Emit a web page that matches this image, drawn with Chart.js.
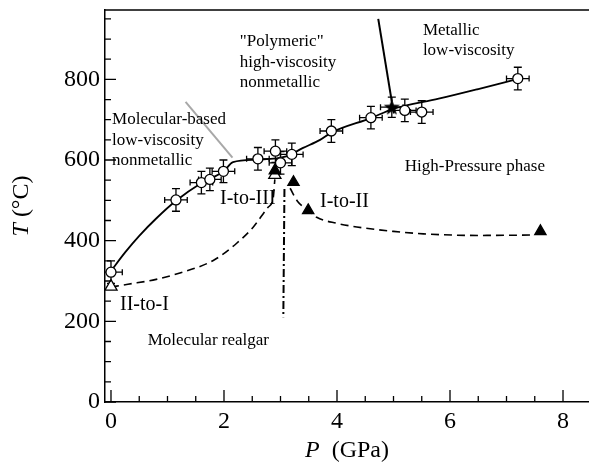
<!DOCTYPE html>
<html>
<head>
<meta charset="utf-8">
<script src="https://cdn.jsdelivr.net/npm/chart.js@4/dist/chart.umd.min.js"></script>
<style>
  body { margin: 0; background: #fff; }
  #myChart { display: block; }
</style>
</head>
<body>
<canvas id="myChart" width="589" height="468"></canvas>
<script>
// tick labels
const xTickValues = [0, 2, 4, 6, 8];
const yTickValues = [0, 200, 400, 600, 800];

// measured points (open circles) with error bars
const circleP = [0, 1.15, 1.6, 1.75, 1.99, 2.6, 2.91, 3.0, 3.2, 3.9, 4.6, 5.2, 5.5, 7.2];
const circleT = [322, 501, 544, 552, 572, 603, 622, 593, 614, 672, 705, 723, 719, 802];
const circleErrP = [0.2, 0.2, 0.2, 0.2, 0.2, 0.2, 0.2, 0.2, 0.2, 0.2, 0.2, 0.2, 0.2, 0.2];
const circleErrT = [28, 28, 28, 28, 28, 28, 28, 28, 28, 28, 28, 28, 28, 28];

// filled star
const starP = [4.97];
const starT = [731];
const starErrP = [0.2];
const starErrT = [25];

// transition triangles
const filledTriP = [2.9, 3.23, 3.49, 7.6];
const filledTriT = [574, 545, 475, 423];
const openTriP = [0, 2.9];
const openTriT = [286, 563];

// solid boundary curve
const boundaryP = [0, 0.25, 0.5, 0.8, 1.15, 1.6, 2.0, 2.16, 2.6, 3.1, 3.4, 3.7, 3.9, 4.6, 5.0, 5.8, 6.5, 7.2];
const boundaryT = [325, 371, 412, 455, 499, 543, 573, 595, 601, 609, 630, 650, 668, 704, 727, 752, 776, 801];

// dashed curves
const dash1P = [0, 0.3, 0.8, 1.22, 1.81, 2.22, 2.52, 2.78, 2.87, 2.9];
const dash1T = [285, 292, 304, 320, 351, 393, 434, 483, 505, 552];
const dash2P = [3.17, 3.3, 3.49, 3.64, 4.0, 4.35, 5.0, 5.53, 6.5, 7.5];
const dash2T = [530, 498, 475, 458, 443, 434, 423, 417, 413, 414];

// dash-dot line
const dashDotP = [3.07, 3.05];
const dashDotT = [528, 210];

// guide lines
const grayP = [1.32, 2.15];
const grayT = [744, 606];
const pointerP = [4.73, 4.97];
const pointerT = [950, 745];

// labels
const notes = [
  { text: 'Molecular-based', p: 0.02, t: 700, size: 17 },
  { text: 'low-viscosity', p: 0.02, t: 649, size: 17 },
  { text: 'nonmetallic', p: 0.02, t: 598, size: 17 },
  { text: '"Polymeric"', p: 2.28, t: 893, size: 17 },
  { text: 'high-viscosity', p: 2.28, t: 842, size: 17 },
  { text: 'nonmetallic', p: 2.28, t: 792, size: 17 },
  { text: 'Metallic', p: 5.52, t: 921, size: 17 },
  { text: 'low-viscosity', p: 5.52, t: 871, size: 17 },
  { text: 'High-Pressure phase', p: 5.2, t: 585, size: 17 },
  { text: 'I-to-III', p: 1.93, t: 505, size: 20 },
  { text: 'I-to-II', p: 3.7, t: 496, size: 20 },
  { text: 'II-to-I', p: 0.16, t: 240, size: 20 },
  { text: 'Molecular realgar', p: 0.65, t: 153, size: 17 }
];

const FONT = "'Liberation Serif', 'Times New Roman', serif";

function pts(xs, ys) {
  return xs.map((x, i) => ({ x: x, y: ys[i] }));
}

// filled star marker
const starImg = document.createElement('canvas');
starImg.width = 18;
starImg.height = 18;
(function () {
  const c = starImg.getContext('2d');
  c.beginPath();
  for (let i = 0; i < 10; i++) {
    const r = i % 2 === 0 ? 8.5 : 3.6;
    const a = -Math.PI / 2 + i * Math.PI / 5;
    const px = 9 + r * Math.cos(a);
    const py = 9.5 + r * Math.sin(a);
    if (i === 0) c.moveTo(px, py); else c.lineTo(px, py);
  }
  c.closePath();
  c.fillStyle = '#000';
  c.fill();
})();

const decorPlugin = {
  id: 'decor',
  beforeDatasetsDraw(chart) {
    const ctx = chart.ctx;
    const xs = chart.scales.x, ys = chart.scales.y;
    ctx.save();
    ctx.beginPath();
    const a = chart.chartArea;
    ctx.rect(a.left, a.top, a.right - a.left, a.bottom - a.top);
    ctx.clip();
    ctx.strokeStyle = '#000';
    ctx.lineWidth = 1.3;
    const bars = (P, T, eP, eT) => {
      P.forEach((p, i) => {
        const cx = xs.getPixelForValue(p), cy = ys.getPixelForValue(T[i]);
        const x1 = xs.getPixelForValue(p - eP[i]), x2 = xs.getPixelForValue(p + eP[i]);
        const y1 = ys.getPixelForValue(T[i] + eT[i]), y2 = ys.getPixelForValue(T[i] - eT[i]);
        ctx.beginPath();
        ctx.moveTo(x1, cy); ctx.lineTo(x2, cy);
        ctx.moveTo(x1, cy - 3); ctx.lineTo(x1, cy + 3);
        ctx.moveTo(x2, cy - 3); ctx.lineTo(x2, cy + 3);
        ctx.moveTo(cx, y1); ctx.lineTo(cx, y2);
        ctx.moveTo(cx - 4, y1); ctx.lineTo(cx + 4, y1);
        ctx.moveTo(cx - 4, y2); ctx.lineTo(cx + 4, y2);
        ctx.stroke();
      });
    };
    bars(circleP, circleT, circleErrP, circleErrT);
    bars(starP, starT, starErrP, starErrT);
    ctx.restore();
  },
  afterDraw(chart) {
    const ctx = chart.ctx;
    const xs = chart.scales.x, ys = chart.scales.y;
    const a = chart.chartArea;
    ctx.save();
    ctx.strokeStyle = '#000';
    ctx.lineWidth = 1.5;
    // top frame line
    ctx.beginPath();
    ctx.moveTo(a.left, a.top);
    ctx.lineTo(a.right, a.top);
    ctx.stroke();
    // inward ticks
    ctx.lineWidth = 1.3;
    ctx.beginPath();
    for (let v = 0; v <= ys.max; v += 50) {
      const y = ys.getPixelForValue(v);
      const len = v % 200 === 0 ? 11 : 6;
      ctx.moveTo(a.left, y); ctx.lineTo(a.left + len, y);
    }
    for (let v = 0; v <= xs.max; v += 0.5) {
      const x = xs.getPixelForValue(v);
      const len = v % 2 === 0 ? 12 : 6;
      ctx.moveTo(x, a.bottom); ctx.lineTo(x, a.bottom - len);
    }
    ctx.stroke();

    // annotations
    ctx.fillStyle = '#000';
    ctx.textBaseline = 'middle';
    ctx.textAlign = 'left';
    notes.forEach(n => {
      ctx.font = n.size + 'px ' + FONT;
      ctx.fillText(n.text, xs.getPixelForValue(n.p), ys.getPixelForValue(n.t));
    });

    // axis titles
    ctx.font = 'italic 24px ' + FONT;
    const pW = ctx.measureText('P').width;
    ctx.font = '24px ' + FONT;
    const gW = ctx.measureText('  (GPa)').width;
    let x0 = (a.left + a.right) / 2 - (pW + gW) / 2;
    ctx.font = 'italic 24px ' + FONT;
    ctx.fillText('P', x0, 451);
    ctx.font = '24px ' + FONT;
    ctx.fillText('  (GPa)', x0 + pW, 451);

    ctx.translate(22, (a.top + a.bottom) / 2);
    ctx.rotate(-Math.PI / 2);
    ctx.font = 'italic 24px ' + FONT;
    const tW = ctx.measureText('T').width;
    ctx.font = '24px ' + FONT;
    const cW = ctx.measureText(' (°C)').width;
    x0 = -(tW + cW) / 2;
    ctx.font = 'italic 24px ' + FONT;
    ctx.fillText('T', x0, 0);
    ctx.font = '24px ' + FONT;
    ctx.fillText(' (°C)', x0 + tW, 0);
    ctx.restore();
  }
};

function lineSet(xs, ys, opts) {
  return Object.assign({
    data: pts(xs, ys),
    borderColor: '#000',
    borderWidth: 1.6,
    pointRadius: 0,
    fill: false,
    tension: 0,
    order: 2
  }, opts);
}

function markerSet(xs, ys, opts) {
  return Object.assign({
    data: pts(xs, ys),
    showLine: false,
    borderColor: '#000',
    pointBorderColor: '#000',
    pointBorderWidth: 1.3,
    order: 0
  }, opts);
}

const ctx = document.querySelector('#myChart').getContext('2d');
const myChart = new Chart(ctx, {
  type: 'line',
  data: {
    datasets: [
      markerSet(filledTriP, filledTriT, { pointStyle: 'triangle', pointRadius: 6.5, pointBackgroundColor: '#000', order: 0 }),
      markerSet(openTriP, openTriT, { pointStyle: 'triangle', pointRadius: 7, pointBackgroundColor: '#fff', order: 1 }),
      markerSet(starP, starT, { pointStyle: starImg, pointRadius: 9, order: 0 }),
      markerSet(circleP, circleT, { pointStyle: 'circle', pointRadius: 5, pointBackgroundColor: '#fff', order: 1 }),
      lineSet(boundaryP, boundaryT, { cubicInterpolationMode: 'monotone', borderWidth: 1.8 }),
      lineSet(dash1P, dash1T, { cubicInterpolationMode: 'monotone', borderDash: [8, 5] }),
      lineSet(dash2P, dash2T, { cubicInterpolationMode: 'monotone', borderDash: [8, 5] }),
      lineSet(dashDotP, dashDotT, { borderDash: [8, 3, 2, 3], borderWidth: 2 }),
      lineSet(grayP, grayT, { borderColor: '#a8a8a8', borderWidth: 2 }),
      lineSet(pointerP, pointerT, { borderWidth: 2 })
    ]
  },
  options: {
    responsive: false,
    animation: false,
    layout: { autoPadding: false, padding: { top: 10, right: 0, left: 0, bottom: 0 } },
    plugins: {
      legend: { display: false },
      tooltip: { enabled: false }
    },
    scales: {
      x: {
        type: 'linear',
        min: -0.106,
        max: 8.46,
        afterBuildTicks: s => { s.ticks = xTickValues.map(v => ({ value: v })); },
        afterFit: s => { s.height = 66; s.paddingLeft = 0; s.paddingRight = 0; },
        grid: { display: true, drawOnChartArea: false, drawTicks: false },
        border: { display: true, color: '#000', width: 1.5 },
        ticks: { color: '#000', padding: 5, maxRotation: 0, font: { family: FONT, size: 24 } }
      },
      y: {
        type: 'linear',
        min: 0,
        max: 972,
        afterBuildTicks: s => { s.ticks = yTickValues.map(v => ({ value: v })); },
        afterFit: s => { s.width = 105; s.paddingTop = 0; s.paddingBottom = 0; },
        grid: { display: true, drawOnChartArea: false, drawTicks: false },
        border: { display: true, color: '#000', width: 1.5 },
        ticks: { color: '#000', padding: 5, font: { family: FONT, size: 24 } }
      }
    }
  },
  plugins: [decorPlugin]
});
</script>
</body>
</html>
